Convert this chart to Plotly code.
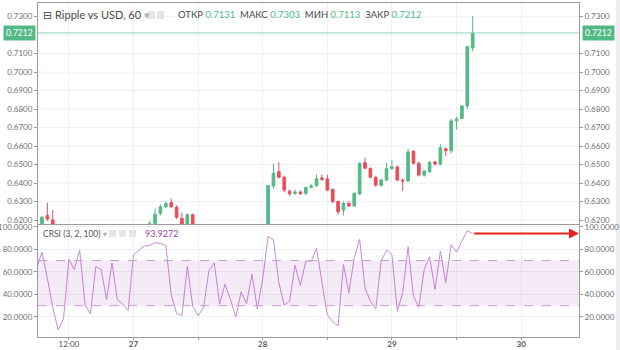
import plotly.graph_objects as go
import pandas as pd

# ---------------- data ----------------
BASE = pd.Timestamp("2018-03-27 00:00")   # day "27" 00:00

# hourly candles that reach into the visible price window (offset in hours from BASE)
candle_hours = [-17, -16, -15,
                3, 4, 5, 6, 7, 8, 9, 10, 11,
                25, 26, 27, 28, 29, 30, 31, 32, 33, 34, 35, 36, 37, 38, 39, 40,
                41, 42, 43, 44, 45, 46, 47, 48, 49, 50, 51, 52, 53, 54, 55, 56,
                57, 58, 59, 60, 61, 62, 63]
opens = [0.6140, 0.6225, 0.6200,
         0.6168, 0.6182, 0.6236, 0.6272, 0.6294, 0.6269, 0.6209, 0.6178, 0.6229,
         0.6100, 0.6384, 0.6461, 0.6431, 0.6355, 0.6344, 0.6351, 0.6344, 0.6377, 0.6386, 0.6427, 0.6422, 0.6366, 0.6300, 0.6254, 0.6290,
         0.6276, 0.6341, 0.6510, 0.6478, 0.6431, 0.6388, 0.6416, 0.6478, 0.6487, 0.6416, 0.6411, 0.6572, 0.6507, 0.6443, 0.6461, 0.6514,
         0.6503, 0.6586, 0.6575, 0.6737, 0.6750, 0.6817, 0.7131]
highs = [0.6222, 0.6293, 0.6254,
         0.6195, 0.6262, 0.6285, 0.6300, 0.6317, 0.6280, 0.6240, 0.6235, 0.6235,
         0.6390, 0.6505, 0.6513, 0.6440, 0.6365, 0.6365, 0.6360, 0.6380, 0.6395, 0.6447, 0.6447, 0.6445, 0.6370, 0.6305, 0.6300, 0.6300,
         0.6350, 0.6512, 0.6537, 0.6485, 0.6440, 0.6425, 0.6510, 0.6525, 0.6495, 0.6425, 0.6584, 0.6578, 0.6515, 0.6470, 0.6520, 0.6520,
         0.6610, 0.6592, 0.6748, 0.6758, 0.6820, 0.7140, 0.7303]
lows = [0.6120, 0.6195, 0.6160,
        0.6150, 0.6175, 0.6225, 0.6265, 0.6265, 0.6205, 0.6170, 0.6170, 0.6170,
        0.6080, 0.6370, 0.6425, 0.6350, 0.6330, 0.6335, 0.6335, 0.6335, 0.6370, 0.6380, 0.6410, 0.6355, 0.6290, 0.6229, 0.6225, 0.6270,
        0.6270, 0.6335, 0.6475, 0.6425, 0.6380, 0.6380, 0.6410, 0.6470, 0.6410, 0.6357, 0.6405, 0.6500, 0.6435, 0.6435, 0.6455, 0.6495,
        0.6495, 0.6545, 0.6560, 0.6690, 0.6745, 0.6800, 0.7113]
closes = [0.6215, 0.6205, 0.6178,
          0.6180, 0.6231, 0.6272, 0.6290, 0.6272, 0.6215, 0.6178, 0.6229, 0.6178,
          0.6386, 0.6453, 0.6431, 0.6362, 0.6342, 0.6351, 0.6342, 0.6375, 0.6384, 0.6423, 0.6420, 0.6362, 0.6300, 0.6245, 0.6290, 0.6276,
          0.6344, 0.6507, 0.6480, 0.6431, 0.6389, 0.6416, 0.6478, 0.6488, 0.6416, 0.6411, 0.6568, 0.6507, 0.6443, 0.6465, 0.6512, 0.6503,
          0.6591, 0.6575, 0.6736, 0.6746, 0.6817, 0.7138, 0.7212]

# CRSI (3, 2, 100), one value per hour starting at BASE - 18h
crsi_start = -18
crsi = [63.6, 77.5, 54.0, 28.6, 8.5, 18.2, 71.4, 62.0, 79.2, 31.0,
        22.8, 64.7, 62.0, 35.3, 67.9, 35.0, 31.5, 25.8, 75.0, 79.3,
        82.8, 83.4, 85.8, 85.2, 83.4, 39.9, 23.0, 21.2, 65.0, 29.5,
        21.2, 28.0, 61.0, 68.0, 31.5, 49.0, 35.6, 20.0, 42.3, 31.7,
        58.0, 27.0, 54.0, 91.4, 88.5, 50.3, 30.4, 34.0, 65.7, 47.9,
        69.5, 69.5, 80.6, 51.0, 21.8, 15.9, 12.0, 66.5, 41.4, 72.5,
        88.8, 45.8, 34.0, 27.1, 69.5, 79.3, 75.4, 25.0, 41.4, 82.3,
        38.4, 28.6, 62.1, 73.4, 44.3, 78.4, 50.3, 84.0, 77.6, 87.5,
        96.5, 93.9272]
crsi_levels = [30, 70]

# 0.7200 is hidden behind the last-price box in the reference
price_ticks = [0.62, 0.63, 0.64, 0.65, 0.66, 0.67, 0.68, 0.69, 0.70, 0.71, 0.73]
price_grid = [0.62, 0.63, 0.64, 0.65, 0.66, 0.67, 0.68, 0.69, 0.70, 0.71, 0.72, 0.73]
crsi_ticks = [20, 40, 60, 80, 100]
time_tick_hours = [-12, 0, 12, 24, 36, 48, 60, 72]
time_tick_text = ["12:00", "<b>27</b>", "", "<b>28</b>", "", "<b>29</b>", "", "<b>30</b>"]

title = "Ripple vs USD, 60"
ohlc_labels = ["ОТКР", "МАКС", "МИН", "ЗАКР"]
crsi_title = "CRSI (3, 2, 100)"

# ---------------- derived ----------------
t = [BASE + pd.Timedelta(hours=h) for h in candle_hours]
t_crsi = list(pd.date_range(BASE + pd.Timedelta(hours=crsi_start), periods=len(crsi), freq="h"))
x_range = [BASE + pd.Timedelta(hours=-17.74), BASE + pd.Timedelta(hours=82.75)]
tickvals = [BASE + pd.Timedelta(hours=h) for h in time_tick_hours]
last_o, last_h, last_l, last_c = opens[-1], highs[-1], lows[-1], closes[-1]

UP, DOWN = "#53b987", "#eb4d5c"
GRID = "#eef1f4"
FRAME = "#9a9a9a"
TICKC = "#707070"
W, H = 620, 350
ML, MR, MT, MB = 38, 41, 3, 13
PW, PH = W - ML - MR, H - MT - MB
SPLIT = (H - MB - 225) / PH
P_RANGE = [0.6173, 0.7374]
C_RANGE = [2.2, 101.5]


def px(x):
    return (x - ML) / PW


def py(y):
    return (H - MB - y) / PH


fig = go.Figure()
fig.add_trace(go.Candlestick(
    x=t, open=opens, high=highs, low=lows, close=closes,
    increasing=dict(line=dict(color=UP, width=1), fillcolor=UP),
    decreasing=dict(line=dict(color=DOWN, width=1), fillcolor=DOWN),
    whiskerwidth=0, xaxis="x", yaxis="y", hoverinfo="skip", showlegend=False))
# last-price line (on right price axis so that axis is drawn)
fig.add_trace(go.Scatter(x=x_range, y=[last_c, last_c], mode="lines",
                         line=dict(color="#8fd3b6", width=1), xaxis="x", yaxis="y2",
                         hoverinfo="skip", showlegend=False))
# CRSI band + levels
fig.add_trace(go.Scatter(x=x_range, y=[crsi_levels[0]] * 2, mode="lines",
                         line=dict(color="#c9a0d2", width=1, dash="dash"),
                         xaxis="x2", yaxis="y4", hoverinfo="skip", showlegend=False))
fig.add_trace(go.Scatter(x=x_range, y=[crsi_levels[1]] * 2, mode="lines",
                         line=dict(color="#c9a0d2", width=1, dash="dash"),
                         fill="tonexty", fillcolor="rgba(156,60,180,0.10)",
                         xaxis="x2", yaxis="y4", hoverinfo="skip", showlegend=False))
fig.add_trace(go.Scatter(x=t_crsi, y=crsi, mode="lines",
                         line=dict(color="#c98ad6", width=1),
                         xaxis="x2", yaxis="y3", hoverinfo="skip", showlegend=False))

ax_common = dict(type="date", range=x_range, tickvals=tickvals, showgrid=True,
                 gridcolor=GRID, gridwidth=1, showline=True, linecolor=FRAME,
                 linewidth=1, zeroline=False, automargin=False)
y_common = dict(ticks="outside", ticklen=3, tickcolor=FRAME, zeroline=False,
                automargin=False, tickformat=".4f",
                tickfont=dict(size=8, color=TICKC))
fig.update_layout(
    width=W, height=H, margin=dict(l=ML, r=MR, t=MT, b=MB, autoexpand=False),
    paper_bgcolor="white", plot_bgcolor="white",
    font=dict(family="Lato, 'DejaVu Sans', sans-serif", color=TICKC, size=8),
    xaxis=dict(**ax_common, domain=[0, 1], anchor="y", side="top",
               showticklabels=False, rangeslider=dict(visible=False), ticks=""),
    xaxis2=dict(**ax_common, domain=[0, 1], anchor="y3", matches="x", mirror=True,
                ticktext=time_tick_text, ticks="outside", ticklen=2,
                tickcolor=FRAME, ticklabelstandoff=-3,
                tickfont=dict(size=8, color="#555")),
    yaxis=dict(**y_common, domain=[SPLIT, 1], anchor="x", range=P_RANGE,
               tickvals=price_ticks, side="left", showgrid=False,
               showline=True, linecolor=FRAME, mirror=True),
    yaxis2=dict(**y_common, overlaying="y", anchor="x", side="right", range=P_RANGE,
                matches="y", tickvals=price_ticks, showgrid=False),
    yaxis3=dict(**y_common, domain=[0, SPLIT], anchor="x2", range=C_RANGE,
                tickvals=crsi_ticks, side="left", showgrid=True, gridcolor=GRID,
                showline=True, linecolor=FRAME, mirror=True),
    yaxis4=dict(**y_common, overlaying="y3", anchor="x2", side="right", range=C_RANGE,
                matches="y3", tickvals=crsi_ticks, showgrid=False),
)

ann = []
# last-price boxes on both axes
for xp, anc in ((0, "right"), (1, "left")):
    ann.append(dict(x=xp, xref="paper", y=last_c, yref="y", text=f"{last_c:.4f}",
                    showarrow=False, xanchor=anc, yanchor="middle",
                    bgcolor=UP, font=dict(color="white", size=8.5), borderpad=2,
                    xshift=-2 if anc == "right" else 3))
# header legend
ann.append(dict(x=px(41), y=py(15), xref="paper", yref="paper", xanchor="left",
                yanchor="middle", showarrow=False,
                text=f"⊟ {title} <span style='color:#b0b0b0'>▾</span>",
                font=dict(size=11, color="#4a4a4a")))
vals = [last_o, last_h, last_l, last_c]
ohlc_txt = "  ".join(f"{lab} <span style='color:{UP}'>{v:.4f}</span>"
                     for lab, v in zip(ohlc_labels, vals))
ann.append(dict(x=px(176), y=py(15), xref="paper", yref="paper", xanchor="left",
                yanchor="middle", showarrow=False, text=ohlc_txt,
                font=dict(size=9.5, color="#4a4a4a")))
ann.append(dict(x=px(41), y=py(234), xref="paper", yref="paper", xanchor="left",
                yanchor="middle", showarrow=False,
                text=f"{crsi_title} <span style='color:#b0b0b0'>▾</span>",
                font=dict(size=8.5, color="#555")))
ann.append(dict(x=px(143), y=py(234), xref="paper", yref="paper", xanchor="left",
                yanchor="middle", showarrow=False, text=f"{crsi[-1]:.4f}",
                font=dict(size=9, color="#9b3fa5")))
# red arrow from last CRSI value to right edge
ann.append(dict(x=x_range[1], y=crsi[-1], xref="x2", yref="y3",
                ax=t_crsi[-1], ay=crsi[-1], axref="x2", ayref="y3",
                showarrow=True, arrowhead=2, arrowsize=1, arrowwidth=2,
                arrowcolor="#e8201c", text=""))
fig.update_layout(annotations=ann)

shapes = []
# horizontal price grid lines
for g in price_grid:
    shapes.append(dict(type="line", xref="x domain", yref="y", x0=0, x1=1, y0=g, y1=g,
                       line=dict(color=GRID, width=1), layer="below"))
# small icon boxes
for x0 in (148, 157):
    shapes.append(dict(type="rect", xref="paper", yref="paper",
                       x0=px(x0), x1=px(x0 + 7), y0=py(19), y1=py(11),
                       fillcolor="#e3e6e9", line=dict(width=0)))
for x0 in (109, 119, 129):
    shapes.append(dict(type="rect", xref="paper", yref="paper",
                       x0=px(x0), x1=px(x0 + 7), y0=py(237), y1=py(230),
                       fillcolor="#e3e6e9", line=dict(width=0)))
# light outer border on the right
shapes.append(dict(type="rect", xref="paper", yref="paper", x0=px(616), x1=px(621),
                   y0=py(351), y1=py(-1), fillcolor="#eceff2", line=dict(width=0),
                   layer="below"))
fig.update_layout(shapes=shapes)

fig.write_html("out.html")
